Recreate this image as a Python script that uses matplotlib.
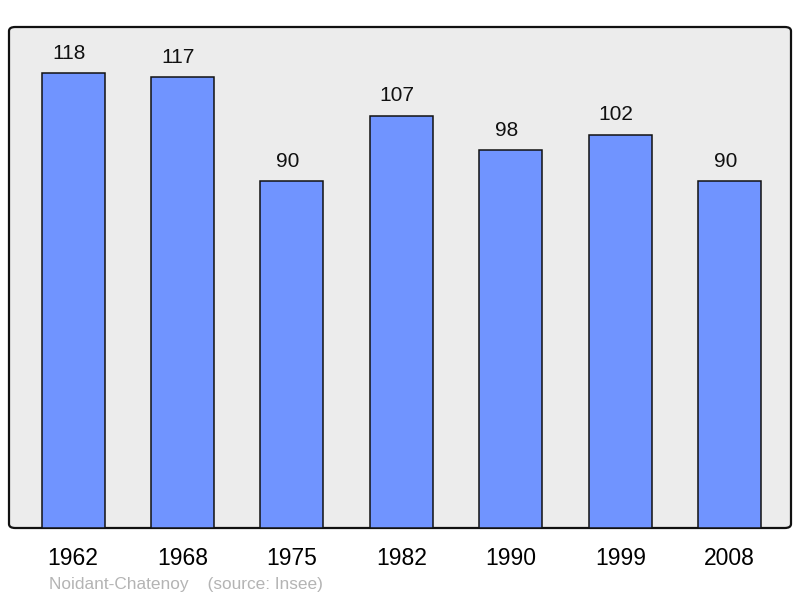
import matplotlib
matplotlib.use("Agg")
import matplotlib.pyplot as plt
from matplotlib.patches import FancyBboxPatch

years = ["1962", "1968", "1975", "1982", "1990", "1999", "2008"]
population = [118, 117, 90, 107, 98, 102, 90]
footer = "Noidant-Chatenoy    (source: Insee)"

plt.rcParams['font.family'] = ['Liberation Sans', 'DejaVu Sans']

fig = plt.figure(figsize=(8, 5.98), dpi=100)
ax = fig.add_axes([9 / 800, 70 / 598, 782 / 800, 501 / 598])
ax.set_facecolor('none')

# rounded grey frame
frame = FancyBboxPatch((0, 0), 1, 1, boxstyle="round,pad=0,rounding_size=0.008",
                       transform=ax.transAxes, facecolor='#ececec',
                       edgecolor='#111111', linewidth=1.6, zorder=0, clip_on=False)
ax.add_patch(frame)

x = range(len(years))
bars = ax.bar(x, population, width=0.576, color='#7094ff',
              edgecolor='#111111', linewidth=1.1, zorder=2)

for xi, v in zip(x, population):
    ax.annotate(str(v), (xi, v), xytext=(-3.2, 10.5), textcoords='offset points',
                ha='center', va='baseline', fontsize=15, color='#111111')

ax.set_xlim(-0.585, 6.56)
ax.set_ylim(0, 130)
ax.set_xticks(list(x))
ax.set_xticklabels(years, fontsize=16.5)
ax.tick_params(axis='x', length=0, pad=14)
ax.set_yticks([])
for s in ax.spines.values():
    s.set_visible(False)

fig.text(49 / 800, 1 - 584 / 598, footer, fontsize=12.4, color='#b4b4b4',
         ha='left', va='center')

fig.savefig("out.png", dpi=100)
